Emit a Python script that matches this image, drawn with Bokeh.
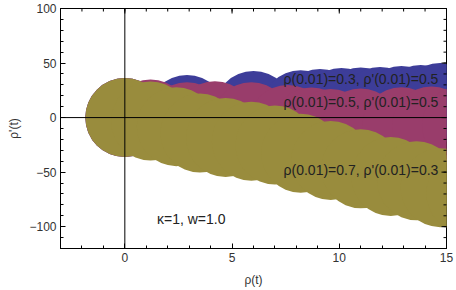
from bokeh.plotting import figure
from bokeh.models import Range1d, FixedTicker, Span, Label
from bokeh.embed import file_html
from bokeh.resources import INLINE

# trajectories in phase space (rho, rho')
blue_rho = [0.0, 2.9, 6.0, 8.2, 9.1, 10.1, 11.0, 11.9, 12.9, 13.8, 14.7, 15.7, 16.6]
blue_drho = [0.0, 2.8, 6.4, 7.3, 8.3, 9.2, 9.6, 10.1, 11.0, 11.9, 13.8, 15.1, 16.1]

purple_rho = [0.0, 1.2, 2.9, 4.2, 5.9, 7.6, 8.7, 9.6, 11.0, 12.9, 14.3, 15.7, 17.1]
purple_drho = [0.0, -1.4, -3.7, -2.8, -3.7, -6.4, -8.7, -10.1, -9.6, -8.3, -7.8, -7.3, -6.9]

olive_rho = [0.0, 1.2, 2.4, 3.5, 4.7, 5.9, 7.0, 8.2, 9.6, 11.0, 12.4, 13.6, 14.7, 15.9, 17.1]
olive_drho = [0.0, -3.2, -8.3, -14.2, -18.3, -21.6, -25.2, -32.6, -39.4, -46.8, -54.1, -57.8, -64.2, -69.3, -74.8]

series_labels = ["\u03c1(0.01)=0.3, \u03c1'(0.01)=0.5",
                 "\u03c1(0.01)=0.5, \u03c1'(0.01)=0.5",
                 "\u03c1(0.01)=0.7, \u03c1'(0.01)=0.3"]
label_x = [14.62, 14.62, 14.62]
label_y = [35.3, 14.0, -48.2]
note_text = "\u03ba=1, w=1.0"

x_major = [0, 5, 10, 15]
x_minor = list(range(-3, 16))
y_major = [-100, -50, 0, 50, 100]
y_minor = list(range(-120, 101, 10))
y_tick_labels = ["\u2212100", "\u221250", "0", "50", "100"]

colors = ["#3D3D99", "#993D6B", "#998C3D"]
FONT = "Liberation Sans"
X0, X1, Y0, Y1 = -3, 15, -120, 100

p = figure(width=456, height=290, output_backend="svg", toolbar_location=None,
           x_range=Range1d(X0, X1), y_range=Range1d(Y0, Y1),
           min_border_left=60, min_border_right=10, min_border_top=8,
           min_border_bottom=42)
p.grid.visible = False
p.outline_line_color = "black"
p.background_fill_color = "white"
p.border_fill_color = "white"

for xs, ys, c in [(blue_rho, blue_drho, colors[0]),
                  (purple_rho, purple_drho, colors[1]),
                  (olive_rho, olive_drho, colors[2])]:
    p.scatter(xs, ys, size=79, marker="circle", fill_color=c, line_color=None)

def style_axis(ax, ticker):
    ax.ticker = ticker
    ax.axis_line_color = "black"
    ax.major_tick_line_color = "black"
    ax.minor_tick_line_color = "black"
    ax.major_tick_in = 5
    ax.major_tick_out = 0
    ax.minor_tick_in = 3
    ax.minor_tick_out = 0
    ax.major_label_text_font = FONT
    ax.major_label_text_font_size = "12px"
    ax.major_label_text_color = "#333333"
    ax.axis_label_text_font = FONT
    ax.axis_label_text_font_size = "12px"
    ax.axis_label_text_font_style = "normal"
    ax.axis_label_text_color = "#333333"

style_axis(p.xaxis[0], FixedTicker(ticks=x_major, minor_ticks=x_minor))
p.xaxis[0].axis_label = "\u03c1(t)"
p.xaxis[0].major_label_standoff = 4
p.xaxis[0].axis_label_standoff = 8

style_axis(p.yaxis[0], FixedTicker(ticks=y_major, minor_ticks=y_minor))
p.yaxis[0].axis_label = "\u03c1'(t)"
p.yaxis[0].major_label_standoff = 4
p.yaxis[0].axis_label_standoff = 5
p.yaxis[0].major_label_overrides = {v: s for v, s in zip(y_major, y_tick_labels)}

# mirrored inward ticks on the top and right frame edges
px_per_x = 386.0 / (X1 - X0)
px_per_y = 240.0 / (Y1 - Y0)
top_x = x_major + x_minor
top_len = [5 / px_per_y] * len(x_major) + [3 / px_per_y] * len(x_minor)
p.segment(x0=top_x, x1=top_x, y0=[Y1] * len(top_x), y1=[Y1 - l for l in top_len],
          line_color="black", line_width=1, level="overlay")
right_y = y_major + y_minor
right_len = [5 / px_per_x] * len(y_major) + [3 / px_per_x] * len(y_minor)
p.segment(x0=[X1] * len(right_y), x1=[X1 - l for l in right_len], y0=right_y, y1=right_y,
          line_color="black", line_width=1, level="overlay")

p.add_layout(Span(location=0, dimension="height", line_color="black", line_width=1))
p.add_layout(Span(location=0, dimension="width", line_color="black", line_width=1))

for t, lx, ly in zip(series_labels, label_x, label_y):
    p.add_layout(Label(x=lx, y=ly, text=t, text_align="right", text_baseline="middle",
                       text_font=FONT, text_font_size="14px", text_color="#222222"))
p.add_layout(Label(x=1.5, y=-93.1, text=note_text, text_align="left", text_baseline="middle",
                   text_font=FONT, text_font_size="14px", text_color="#222222"))

open("out.html", "w").write(file_html(p, INLINE))
